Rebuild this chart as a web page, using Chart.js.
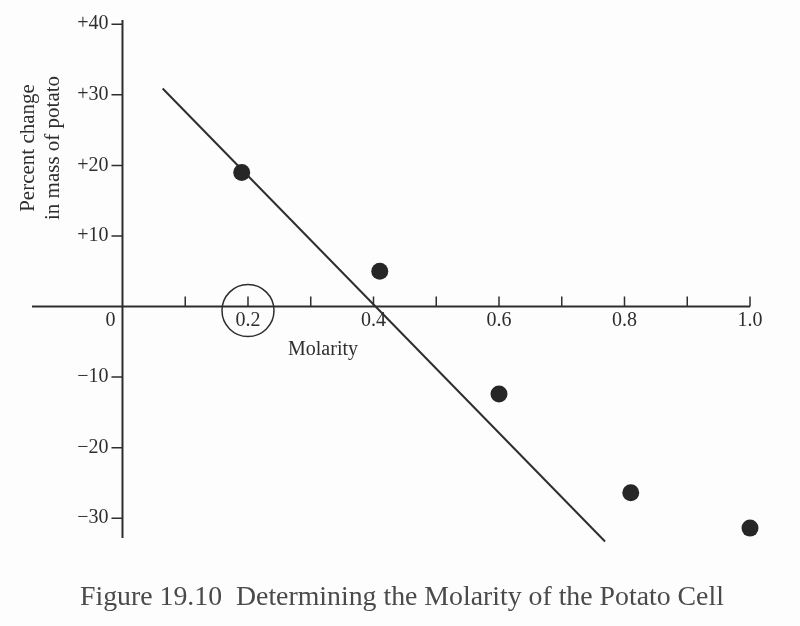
<!DOCTYPE html>
<html>
<head>
<meta charset="utf-8">
<script src="https://cdn.jsdelivr.net/npm/chart.js@4"></script>
<style>
  html, body { margin: 0; padding: 0; background: #fdfdfd; }
  #wrap { width: 800px; height: 626px; }
</style>
</head>
<body>
<div id="wrap"><canvas id="potatoChart" width="800" height="626"></canvas></div>
<script>
// measured points
const molarity = [0.19, 0.41, 0.6, 0.81, 1.0];
const massChange = [19, 5, -12.4, -26.4, -31.4];

// hand drawn fit line (two ends)
const fitMolarity = [0.064, 0.769];
const fitChange = [30.9, -33.3];

// axes
const xTicks = [0.1, 0.2, 0.3, 0.4, 0.5, 0.6, 0.7, 0.8, 0.9, 1.0];
const xTickLabels = ['0.2', '0.4', '0.6', '0.8', '1.0'];
const xLabelValues = [0.2, 0.4, 0.6, 0.8, 1.0];
const yTicks = [40, 30, 20, 10, -10, -20, -30];
const yTickLabels = ['+40', '+30', '+20', '+10', '\u221210', '\u221220', '\u221230'];

const caption = 'Figure 19.10  Determining the Molarity of the Potato Cell';
const yTitle = ['Percent change', 'in mass of potato'];
const xTitle = 'Molarity';

const ink = '#2e2e2e';
const serif = '"Liberation Serif", "Times New Roman", serif';

const axesPlugin = {
    id: 'bookAxes',
    afterDraw(chart) {
        const ctx = chart.ctx;
        const xs = chart.scales.x;
        const ys = chart.scales.y;
        const x0 = xs.getPixelForValue(0);
        const y0 = ys.getPixelForValue(0);

        ctx.save();
        ctx.strokeStyle = ink;
        ctx.fillStyle = ink;

        // axis lines
        ctx.lineWidth = 2;
        ctx.beginPath();
        ctx.moveTo(xs.left, y0);
        ctx.lineTo(xs.getPixelForValue(1.0), y0);
        ctx.moveTo(x0, ys.top);
        ctx.lineTo(x0, ys.bottom);
        ctx.stroke();

        // tick marks
        ctx.lineWidth = 1.5;
        ctx.beginPath();
        xTicks.forEach(v => {
            const px = xs.getPixelForValue(v);
            ctx.moveTo(px, y0);
            ctx.lineTo(px, y0 - 10);
        });
        yTicks.forEach(v => {
            const py = ys.getPixelForValue(v);
            ctx.moveTo(x0, py);
            ctx.lineTo(x0 - 11, py);
        });
        ctx.stroke();

        // tick labels
        ctx.font = '20px ' + serif;
        ctx.textBaseline = 'middle';
        ctx.textAlign = 'center';
        xLabelValues.forEach((v, i) => {
            ctx.fillText(xTickLabels[i], xs.getPixelForValue(v), y0 + 14);
        });
        ctx.fillText('0', x0 - 12, y0 + 14);
        ctx.textAlign = 'right';
        yTicks.forEach((v, i) => {
            ctx.fillText(yTickLabels[i], x0 - 14, ys.getPixelForValue(v));
        });

        // circle round 0.2
        ctx.lineWidth = 1.5;
        ctx.beginPath();
        ctx.arc(xs.getPixelForValue(0.2), y0 + 4, 26, 0, Math.PI * 2);
        ctx.stroke();

        // axis titles
        ctx.textAlign = 'center';
        ctx.fillText(xTitle, 323, y0 + 43);
        ctx.save();
        ctx.translate(28, 148);
        ctx.rotate(-Math.PI / 2);
        ctx.font = '21px ' + serif;
        ctx.fillText(yTitle[0], 0, 0);
        ctx.fillText(yTitle[1], 0, 25);
        ctx.restore();

        // caption, fitted to the printed width
        let size = 24;
        ctx.font = size + 'px ' + serif;
        size = size * 645 / ctx.measureText(caption).width;
        ctx.font = size.toFixed(1) + 'px ' + serif;
        ctx.fillStyle = '#4a4a4a';
        ctx.textAlign = 'left';
        ctx.fillText(caption, 80, 598);

        ctx.restore();
    }
};

new Chart(document.getElementById('potatoChart'), {
    type: 'scatter',
    data: {
        datasets: [
            {
                label: 'Measured',
                data: molarity.map((m, i) => ({ x: m, y: massChange[i] })),
                pointRadius: 8.5,
                pointBackgroundColor: '#262626',
                pointBorderWidth: 0,
                clip: false
            },
            {
                type: 'line',
                label: 'Fit',
                data: fitMolarity.map((m, i) => ({ x: m, y: fitChange[i] })),
                borderColor: ink,
                borderWidth: 2,
                pointRadius: 0,
                clip: false
            }
        ]
    },
    options: {
        responsive: false,
        animation: false,
        events: [],
        layout: { padding: { left: 32, right: 50, top: 20, bottom: 88 } },
        plugins: {
            legend: { display: false },
            tooltip: { enabled: false }
        },
        scales: {
            x: { type: 'linear', min: -0.1442, max: 1.0, display: false },
            y: { type: 'linear', min: -32.8, max: 40.6, display: false }
        }
    },
    plugins: [axesPlugin]
});
</script>
</body>
</html>
